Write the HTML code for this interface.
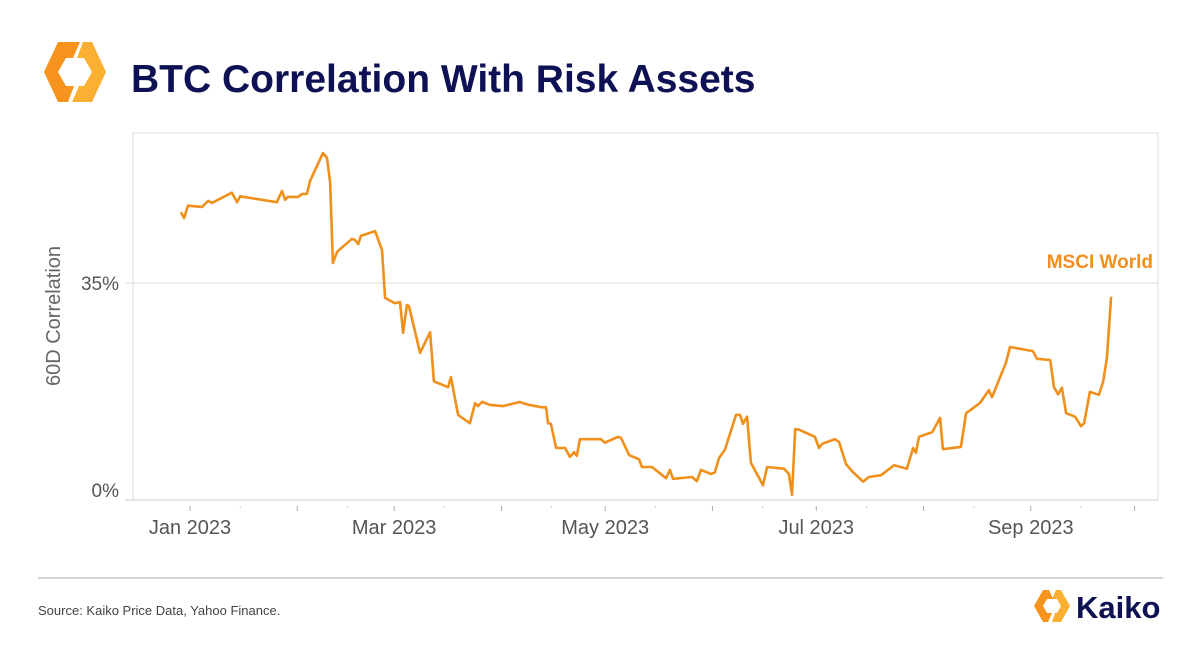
<!DOCTYPE html>
<html><head><meta charset="utf-8"><style>
body{margin:0;background:#fff;width:1200px;height:664px;overflow:hidden;font-family:"Liberation Sans",Arial,sans-serif}
</style></head><body>
<svg id="c" width="1200" height="664" xmlns="http://www.w3.org/2000/svg">
<g>
<polygon points="80,42 58,42 44,72 58,102 68,102 74,86 66,86 58,72 66,58 73,58" fill="#f7941d"/>
<polygon points="72,102 92,102 106,72 92,42 83,42 77,58 84,58 92,72 84,86 79,86" fill="#fbb034"/>
</g>
<text x="131" y="92" font-size="39" font-weight="bold" fill="#0e1254">BTC Correlation With Risk Assets</text>
<rect x="133" y="133" width="1025" height="367" fill="none" stroke="#dcdcdc" stroke-width="1"/>
<text transform="translate(60,316) rotate(-90)" text-anchor="middle" font-size="20" fill="#666">60D Correlation</text>
<g id="grid"></g><g id="xaxis"></g><g id="series"></g>
<text x="1153" y="268" text-anchor="end" font-size="19" font-weight="bold" fill="#f28e1c">MSCI World</text>
<line x1="38" y1="578" x2="1163" y2="578" stroke="#bbb" stroke-width="1.2"/>
<text x="38" y="615" font-size="13" fill="#444">Source: Kaiko Price Data, Yahoo Finance.</text>
<g>
<polygon points="1049,590 1043,590 1034,606 1043,622 1048,622 1052,613 1047,613 1043,606 1047,599 1053,599" fill="#f7941d"/>
<polygon points="1052,622 1061,622 1070,606 1061,590 1056,590 1052,599 1057,599 1061,606 1057,613 1055,613" fill="#fbb034"/>
<text x="1076" y="618" font-size="31" font-weight="bold" fill="#0e1254">Kaiko</text>
</g>
</svg>
<script>
const days=[-2.6,-1.7,-0.6,3.5,5.2,6.4,12.1,13.6,14.5,25.1,26.6,27.5,28.3,31.2,32.4,33.8,34.7,38.4,39.6,40.5,41.3,42.5,46.8,47.7,48.6,49.4,53.5,55.5,56.4,59.2,60.7,61.6,62.7,63.3,66.5,69.4,70.5,74.6,75.4,77.5,80.9,82.4,83.2,84.4,86.7,90.5,95.4,96.2,98.0,101.7,102.9,103.5,104.3,105.8,108.4,109.8,111.0,111.8,112.7,118.8,119.9,123.7,124.6,126.9,129.8,130.6,133.5,137.6,138.7,139.6,145.1,146.5,147.7,150.6,151.7,152.9,154.6,157.8,159.0,159.8,161.0,162.1,165.6,166.8,171.7,173.1,174.0,174.9,176.0,180.6,181.8,182.7,186.4,187.6,189.6,191.3,194.5,196.2,199.7,203.5,207.2,209.0,209.8,210.7,214.5,216.8,217.6,222.8,224.3,228.3,230.9,231.8,235.8,237.0,243.6,244.8,248.6,249.7,250.9,252.0,253.2,255.8,257.5,258.4,260.1,262.7,263.9,265.0,266.2];
const corr=[47.0,46.0,48.1,47.9,48.9,48.6,50.3,48.7,49.7,48.7,50.6,49.1,49.6,49.6,50.1,50.1,52.3,57.0,56.2,52.1,38.4,40.3,42.5,42.3,41.6,43.0,43.8,40.6,32.5,31.6,31.8,26.6,31.3,31.1,23.2,26.7,18.4,17.4,19.1,12.7,11.3,14.7,14.2,14.9,14.4,14.2,14.9,14.7,14.4,14.0,14.0,11.3,11.2,7.1,7.1,5.6,6.4,5.8,8.6,8.6,8.0,9.0,8.8,5.9,5.2,3.9,3.9,2.0,3.4,1.9,2.2,1.5,3.4,2.7,3.0,5.4,6.8,12.7,12.7,11.2,12.4,4.6,0.8,3.9,3.6,2.7,-0.8,10.3,10.2,9.0,7.1,7.8,8.6,8.1,4.4,3.2,1.4,2.2,2.5,4.2,3.6,7.1,6.3,9.0,9.8,12.2,6.9,7.3,13.0,14.7,16.9,15.7,21.5,24.2,23.5,22.2,22.0,17.4,16.2,17.3,13.0,12.4,10.8,11.3,16.6,16.1,18.3,22.3,32.7];
const yTicks=[0,35];
const yTickLabels=["0%","35%"];
const monthDays=[0,31,59,90,120,151,181,212,243,273];
const monthLabels=["Jan 2023","","Mar 2023","","May 2023","","Jul 2023","","Sep 2023",""];
const NS="http://www.w3.org/2000/svg";
const xS=d=>190+d*3.46, yS=v=>490-v*5.91;
function mk(t,a,p){const e=document.createElementNS(NS,t);for(const k in a)e.setAttribute(k,a[k]);p.appendChild(e);return e;}
const grid=document.getElementById('grid'),xa=document.getElementById('xaxis'),ser=document.getElementById('series');
yTicks.forEach((v,i)=>{
 if(v>0){const g=mk('line',{x1:126,x2:1158,y1:yS(v),y2:yS(v),stroke:'#dcdcdc','stroke-width':1},grid);
 
 }
 const t=mk('text',{x:119,y:yS(v)+7,'text-anchor':'end','font-size':19,fill:'#555'},grid);t.textContent=yTickLabels[i];
 
 
});
const ax=mk('line',{x1:125,x2:1158,y1:500,y2:500,stroke:'#ccc','stroke-width':1},xa);


monthDays.forEach((d,i)=>{
 const x=xS(d);
 const tk=mk('line',{x1:x,x2:x,y1:506,y2:511,stroke:'#aaa','stroke-width':1},xa);
 
 
 if(xS(d+14.5)<1158){const m=mk('line',{x1:xS(d+14.5),x2:xS(d+14.5),y1:506,y2:508,stroke:'#ccc','stroke-width':1},xa);
 
 }
 if(monthLabels[i]){const t=mk('text',{x:x,y:534,'text-anchor':'middle','font-size':20,fill:'#555'},xa);t.textContent=monthLabels[i];
 
 }
});
const pts=days.map((d,i)=>xS(d).toFixed(1)+','+yS(corr[i]).toFixed(1)).join(' ');
const pl=mk('polyline',{points:pts,fill:'none',stroke:'#f0901c','stroke-width':2.6,'stroke-linejoin':'round'},ser);


</script>
</body></html>
